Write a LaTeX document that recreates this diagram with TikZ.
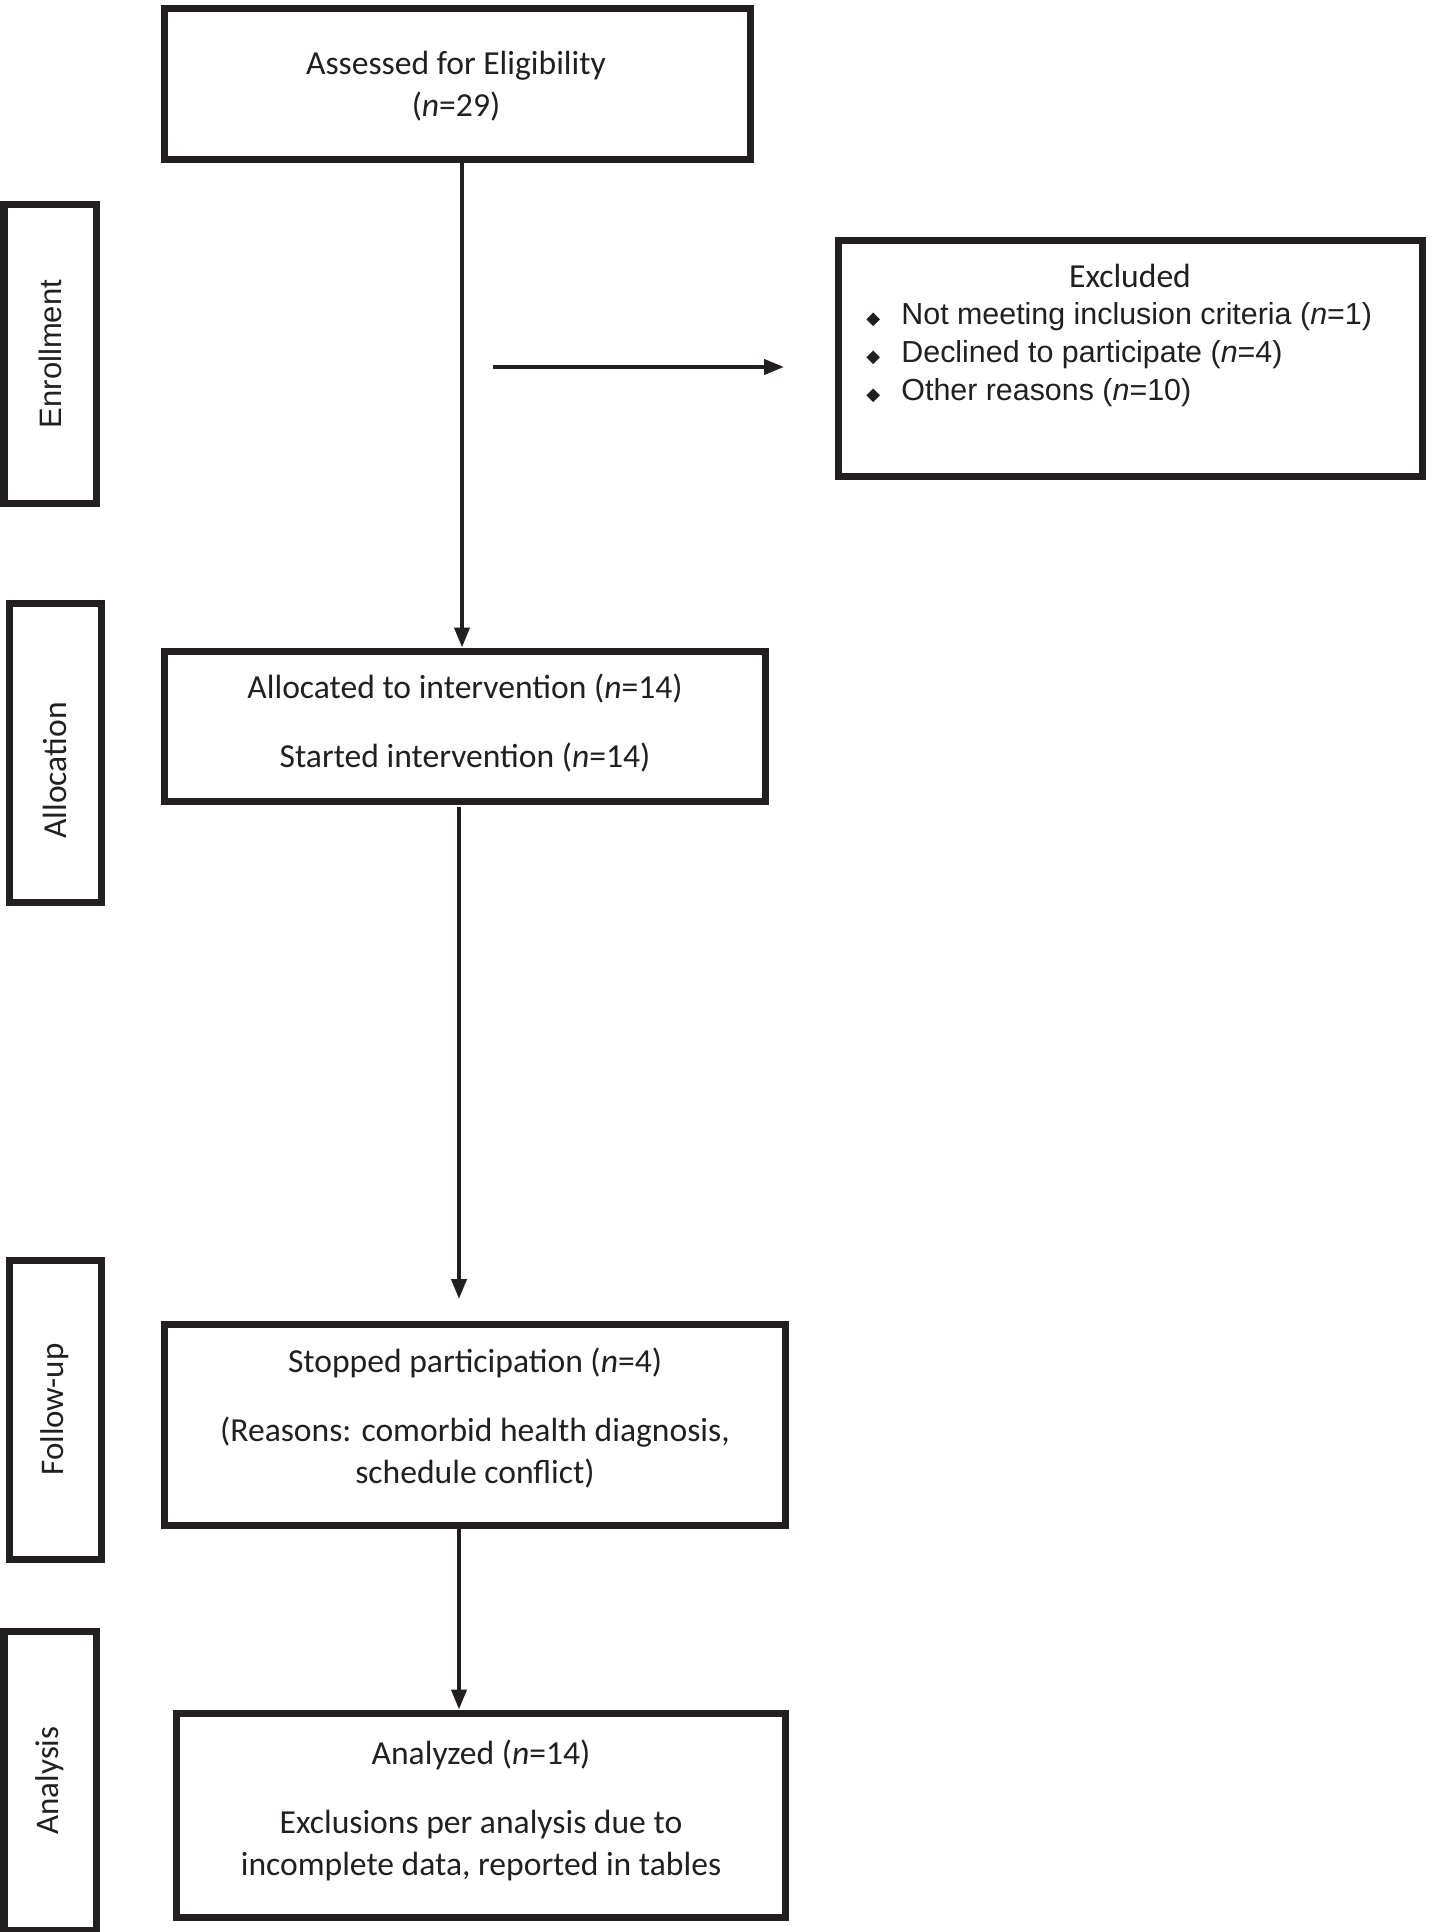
\documentclass[tikz,border=0pt]{standalone}
\usepackage{fontspec}
\setmainfont{Carlito}
\newfontfamily\arialf{Liberation Sans}
\newfontfamily\dejavu{DejaVu Sans}
\usetikzlibrary{arrows.meta}
\definecolor{ink}{HTML}{231F20}
\newcommand{\bul}{{\dejavu\fontsize{9}{9}\selectfont ◆}}
\begin{document}
\begin{tikzpicture}[x=0.5pt,y=-0.5pt,
  box/.style={draw=ink, line width=3.5pt, fill=white, inner sep=0pt},
  boxtext/.style={inner sep=0pt, align=center, text=ink,
    font=\fontsize{16.8}{21}\selectfont},
  side/.style={draw=ink, line width=3.5pt, inner sep=0pt, minimum width=149.5pt,
    minimum height=46pt, rotate=90, text=ink},
  conn/.style={draw=ink, line width=2pt, -{Triangle[length=10pt,width=7.5pt]}},
  listrow/.style={anchor=base west, inner sep=0pt, text=ink,
    font=\arialf\fontsize{15.2}{18}\selectfont}]
\useasboundingbox[fill=white] (0,0) rectangle (1431,1932);

% main boxes
\node[box, minimum width=293pt, minimum height=75pt] (box1) at (457,84) {};
\node[boxtext] (box1t) at (456,86.5) {Assessed for Eligibility\\(\textit{n}=29)};
\node[box, minimum width=292pt, minimum height=118pt] (excl) at (1130,358) {};
\node[box, minimum width=300.5pt, minimum height=75pt] (box2) at (464.5,726) {};
\node[boxtext] (box2t) at (465,723.5)
  {Allocated to intervention (\textit{n}=14)\\[13.5pt]Started intervention (\textit{n}=14)};
\node[box, minimum width=310.5pt, minimum height=100.5pt] (box3) at (474.5,1424.5) {};
\node[boxtext] (box3t) at (475,1418.5)
  {Stopped participation (\textit{n}=4)\\[13.5pt](Reasons: comorbid health diagnosis,\\schedule conflict)};
\node[box, minimum width=304.5pt, minimum height=102pt] (box4) at (480.5,1815) {};
\node[boxtext] (box4t) at (481,1810)
  {Analyzed (\textit{n}=14)\\[13.5pt]Exclusions per analysis due to\\incomplete data, reported in tables};

% excluded text
\node[boxtext] (exhead) at (1130,276) {Excluded};
\node[listrow] (ex1) at (866,324) {\makebox[17.5pt][l]{\bul}Not meeting inclusion criteria (\textit{n}=1)};
\node[listrow] (ex2) at (866,362) {\makebox[17.5pt][l]{\bul}Declined to participate (\textit{n}=4)};
\node[listrow] (ex3) at (866,400) {\makebox[17.5pt][l]{\bul}Other reasons (\textit{n}=10)};

% side labels
\node[side, font=\arialf\fontsize{15.5}{18}\selectfont] (enr) at (50,354) {Enrollment};
\node[side, font=\fontsize{16.8}{20}\selectfont] (alloc) at (55,752.5) {Allocation\kern18pt\relax};
\node[side, font=\fontsize{16.5}{20}\selectfont] (fol) at (55,1409.5) {Follow-up};
\node[side, font=\fontsize{16.5}{20}\selectfont] (ana) at (50,1780.5) {Analysis};

% connectors
\coordinate (v1) at (462,0);
\draw[conn] (box1.south -| v1) -- (box2.north -| v1);
\coordinate (h1) at (493,367);
\coordinate (h2) at (784,367);
\draw[conn] (h1) -- (h2);
\coordinate (v2a) at (459,807);
\coordinate (v2b) at (459,1299);
\draw[conn] (v2a) -- (v2b);
\draw[conn] (box3.south -| v2a) -- (box4.north -| v2a);
\end{tikzpicture}
\end{document}
